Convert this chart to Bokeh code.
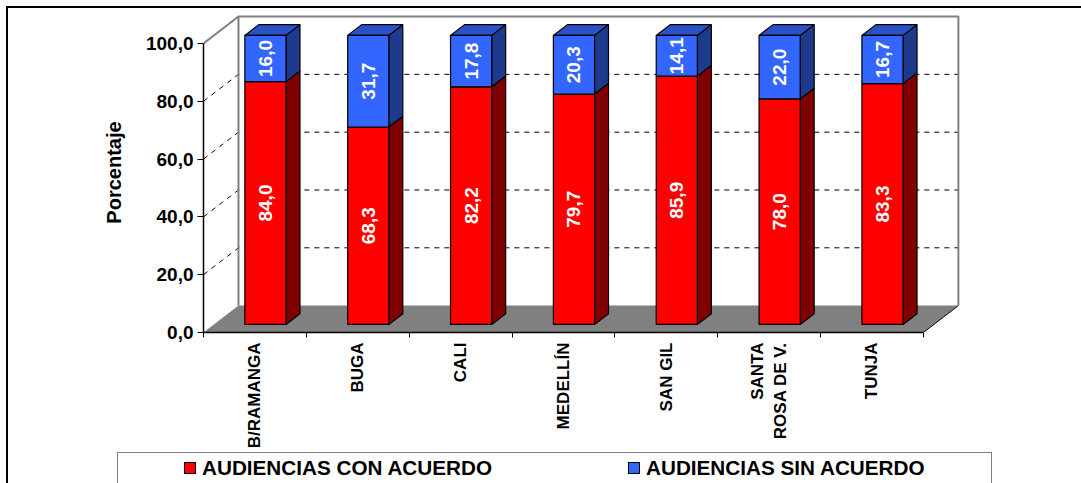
import math
from bokeh.plotting import figure
from bokeh.layouts import column
from bokeh.models import Range1d, FixedTicker, Div
from bokeh.core.properties import value
from bokeh.embed import file_html
from bokeh.resources import INLINE

# ---------------- data ----------------
cities = ["B/RAMANGA", "BUGA", "CALI", "MEDELLÍN", "SAN GIL", "SANTA\nROSA DE V.", "TUNJA"]
con_acuerdo = [84.0, 68.3, 82.2, 79.7, 85.9, 78.0, 83.3]
sin_acuerdo = [16.0, 31.7, 17.8, 20.3, 14.1, 22.0, 16.7]
series_names = ["AUDIENCIAS CON ACUERDO", "AUDIENCIAS SIN ACUERDO"]
y_ticks = [0, 20, 40, 60, 80, 100]
y_tick_labels = ["0,0", "20,0", "40,0", "60,0", "80,0", "100,0"]
y_title = "Porcentaje"

# ---------------- style / projection ----------------
FONT = "Liberation Sans"
DX, DY = 0.34, 9.3      # depth offset of the 3D box (x in category units, y in value units)
F0, F1 = 0.3, 0.7       # front / back depth fraction of the bars
HALF = 0.2              # half bar width
n = len(cities)
YMAX = y_ticks[-1]

RED_F, RED_S = "#FF0000", "#800000"
BLUE_F, BLUE_S, BLUE_T = "#3366FF", "#1E3A8C", "#2A52C6"

W = 1073
p = figure(width=W, height=444, x_range=Range1d(0, 7.38), y_range=Range1d(0, 110.7),
           output_backend="svg", toolbar_location=None,
           min_border_left=195, min_border_right=119, min_border_top=4, min_border_bottom=120)
p.outline_line_color = None
p.xgrid.visible = False
p.ygrid.visible = False
p.background_fill_color = "white"

# floor
p.patch([0, n, n + DX, DX], [0, 0, DY, DY], fill_color="#808080", line_color=None)
p.line([n, n + DX], [0, DY], line_color="black", line_width=1)

# gridlines (side wall + back wall)
gx, gy = [], []
for v in y_ticks[1:-1]:
    gx.append([0, DX, n + DX])
    gy.append([v, v + DY, v + DY])
p.multi_line(gx, gy, line_color="black", line_width=1, line_dash="5 5")

# wall edges
p.line([DX, DX, n + DX, n + DX], [DY, YMAX + DY, YMAX + DY, DY], line_color="#808080", line_width=2)
p.line([0, DX], [YMAX, YMAX + DY], line_color="#808080", line_width=2)

# bars
def front(c, y0, y1):
    a, b = F0 * DX, F0 * DY
    return [c - HALF + a, c + HALF + a, c + HALF + a, c - HALF + a], [y0 + b, y0 + b, y1 + b, y1 + b]

def side(c, y0, y1):
    a0, b0, a1, b1 = F0 * DX, F0 * DY, F1 * DX, F1 * DY
    x = c + HALF
    return [x + a0, x + a1, x + a1, x + a0], [y0 + b0, y0 + b1, y1 + b1, y1 + b0]

def top(c, y):
    a0, b0, a1, b1 = F0 * DX, F0 * DY, F1 * DX, F1 * DY
    return [c - HALF + a0, c + HALF + a0, c + HALF + a1, c - HALF + a1], [y + b0, y + b0, y + b1, y + b1]

rf_x, rf_y, rs_x, rs_y, bf_x, bf_y, bs_x, bs_y, bt_x, bt_y = ([] for _ in range(10))
lab_x, lab_y, lab_t = [], [], []
for i, (r, b) in enumerate(zip(con_acuerdo, sin_acuerdo)):
    c = i + 0.5
    x, y = front(c, 0, r); rf_x.append(x); rf_y.append(y)
    x, y = side(c, 0, r); rs_x.append(x); rs_y.append(y)
    x, y = front(c, r, r + b); bf_x.append(x); bf_y.append(y)
    x, y = side(c, r, r + b); bs_x.append(x); bs_y.append(y)
    x, y = top(c, r + b); bt_x.append(x); bt_y.append(y)
    lab_x += [c + F0 * DX, c + F0 * DX]
    lab_y += [r / 2 + F0 * DY, r + b / 2 + F0 * DY]
    lab_t += [f"{r:.1f}".replace(".", ","), f"{b:.1f}".replace(".", ",")]

p.patches(rs_x, rs_y, fill_color=RED_S, line_color="black", line_width=1.2)
p.patches(rf_x, rf_y, fill_color=RED_F, line_color="black", line_width=1.2)
p.patches(bs_x, bs_y, fill_color=BLUE_S, line_color="black", line_width=1.2)
p.patches(bt_x, bt_y, fill_color=BLUE_T, line_color="black", line_width=1.2)
p.patches(bf_x, bf_y, fill_color=BLUE_F, line_color="black", line_width=1.2)

p.text(lab_x, lab_y, text=lab_t, angle=math.pi / 2, text_align="center", text_baseline="middle",
       text_color="white", text_font=value(FONT), text_font_style="bold", text_font_size="19px")

# x axis
xa = p.xaxis[0]
xa.ticker = FixedTicker(ticks=[i + 0.5 for i in range(n)], minor_ticks=list(range(n + 1)))
xa.major_label_overrides = {i + 0.5: c for i, c in enumerate(cities)}
xa.major_label_orientation = math.pi / 2
xa.major_tick_out = 0
xa.major_tick_in = 0
xa.minor_tick_out = 5
xa.minor_tick_in = 0
xa.minor_tick_line_color = "black"
xa.bounds = (0, n)
xa.axis_line_color = "black"
xa.axis_line_width = 1.5
xa.major_label_standoff = 5
xa.major_label_text_font = FONT
xa.major_label_text_font_style = "bold"
xa.major_label_text_font_size = "17px"
xa.major_label_text_color = "black"

# y axis
ya = p.yaxis[0]
ya.ticker = FixedTicker(ticks=y_ticks, minor_ticks=[])
ya.major_label_overrides = dict(zip(y_ticks, y_tick_labels))
ya.bounds = (0, YMAX)
ya.major_tick_out = 6
ya.major_tick_in = 0
ya.minor_tick_line_color = None
ya.axis_line_color = "black"
ya.axis_line_width = 1.5
ya.major_tick_line_color = "black"
ya.major_label_standoff = 4
ya.major_label_text_font = FONT
ya.major_label_text_font_style = "bold"
ya.major_label_text_font_size = "19px"
ya.major_label_text_color = "black"
ya.axis_label = y_title
ya.axis_label_standoff = 18
ya.axis_label_text_font = FONT
ya.axis_label_text_font_style = "bold"
ya.axis_label_text_font_size = "20px"
ya.axis_label_text_color = "black"

# ---------------- legend box (below the chart) ----------------
sq = "position:absolute;top:9px;width:12px;height:12px;border:1px solid #000;"
tx = "position:absolute;top:3px;line-height:24px;"
legend_html = (
    f'<div style="position:relative;box-sizing:border-box;margin:0 0 0 109px;'
    f'width:875px;height:44px;'
    f'border:1.5px solid #808080;background:#fff;font-family:\'{FONT}\',Arial,sans-serif;'
    f'font-weight:bold;font-size:20.7px;color:#000;white-space:nowrap;">'
    f'<span style="{sq}left:66px;background:{RED_F};"></span>'
    f'<span style="{tx}left:84px;">{series_names[0]}</span>'
    f'<span style="{sq}left:510px;background:{BLUE_F};"></span>'
    f'<span style="{tx}left:528px;">{series_names[1]}</span>'
    f'</div>'
)
legend_div = Div(text=legend_html, width=W, height=31, margin=0, styles={"overflow": "hidden"})

layout = column(p, legend_div, spacing=0,
                styles={"margin": "6px 0 0 6px", "border-top": "2px solid black",
                        "border-left": "2px solid black"})

open("out.html", "w").write(file_html(layout, INLINE))
